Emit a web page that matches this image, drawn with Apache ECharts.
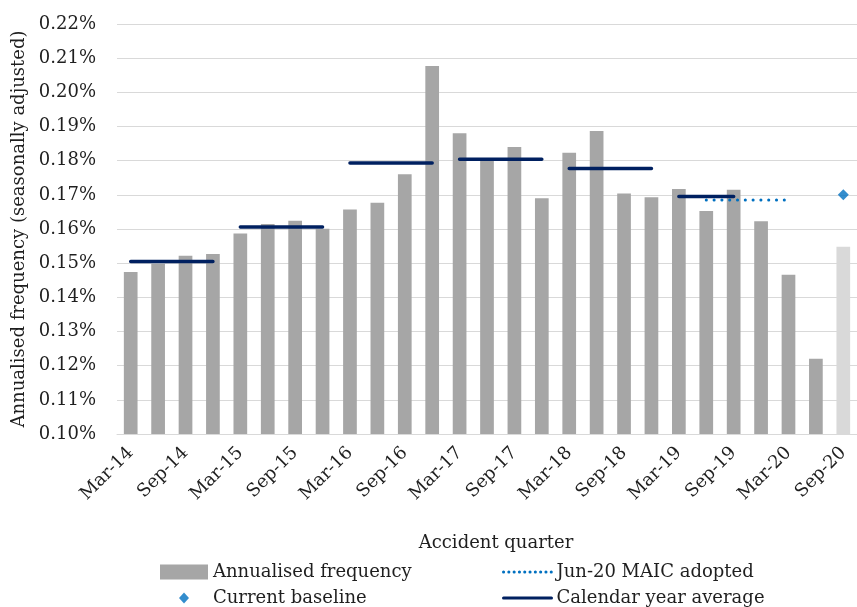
<!DOCTYPE html>
<html>
<head>
<meta charset="utf-8">
<script src="https://cdn.jsdelivr.net/npm/echarts@6/dist/echarts.min.js"></script>
<style>
  html, body { margin: 0; padding: 0; background: #fff; }
  #chart { width: 857px; height: 607px; }
</style>
</head>
<body>
<div id="chart"></div>
<script>
// Accident quarters
const categories = [
  'Mar-14','Jun-14','Sep-14','Dec-14',
  'Mar-15','Jun-15','Sep-15','Dec-15',
  'Mar-16','Jun-16','Sep-16','Dec-16',
  'Mar-17','Jun-17','Sep-17','Dec-17',
  'Mar-18','Jun-18','Sep-18','Dec-18',
  'Mar-19','Jun-19','Sep-19','Dec-19',
  'Mar-20','Jun-20','Sep-20'
];

// Annualised frequency (seasonally adjusted), in percent
const frequency = [
  0.1474, 0.1498, 0.1522, 0.1527,
  0.1587, 0.1615, 0.1624, 0.1601,
  0.1657, 0.1677, 0.1760, 0.2077,
  0.1880, 0.1801, 0.1840, 0.1690,
  0.1823, 0.1887, 0.1704, 0.1693,
  0.1717, 0.1653, 0.1715, 0.1623,
  0.1466, 0.1220, 0.1548
];
// Latest quarter, still developing (lighter bar)
const partialQuarter = 'Sep-20';

// Calendar year averages and the quarters each one covers
const yearAverages = [0.1505, 0.1606, 0.1793, 0.1804, 0.1777, 0.1695];
const yearStarts   = ['Mar-14', 'Mar-15', 'Mar-16', 'Mar-17', 'Mar-18', 'Mar-19'];
const yearEnds     = ['Dec-14', 'Dec-15', 'Dec-16', 'Dec-17', 'Dec-18', 'Sep-19'];

// Jun-20 MAIC adopted assumption
const maicValue = 0.1685;
const maicStart = 'Jun-19';
const maicEnd = 'Mar-20';

// Current baseline
const baselineValue = 0.170;
const baselineQuarter = 'Sep-20';

// Y axis ticks
const yMin = 0.10, yMax = 0.22, yStep = 0.01;

const FONT = 'DejaVu Serif';
const FS = 18;
const TEXT = '#1f1f1f';

function spanData(value, from, to) {
  const a = categories.indexOf(from), b = categories.indexOf(to);
  return categories.map((c, i) => (i >= a && i <= b ? value : null));
}

const barData = frequency.map((v, i) => ({
  value: v,
  itemStyle: { color: categories[i] === partialQuarter ? '#d9d9d9' : '#a6a6a6' }
}));

const yearSeries = yearAverages.map((v, k) => ({
  name: 'Calendar year average',
  type: 'line',
  data: spanData(v, yearStarts[k], yearEnds[k]),
  symbol: 'none',
  connectNulls: false,
  lineStyle: { color: '#002060', width: 3.5, cap: 'round' },
  itemStyle: { color: '#002060' },
  z: 4
}));

const baselineData = categories.map(c => (c === baselineQuarter ? baselineValue : null));

const legendBase = {
  orient: 'horizontal',
  padding: 0,
  itemWidth: 48,
  itemHeight: 15,
  itemGap: 0,
  textStyle: { fontFamily: FONT, fontSize: FS, color: TEXT },
  selectedMode: false
};

const option = {
  animation: false,
  backgroundColor: '#fff',
  textStyle: { fontFamily: FONT },
  grid: { left: 117, right: -4, top: 24, bottom: 173, containLabel: false },
  xAxis: {
    type: 'category',
    data: categories,
    boundaryGap: true,
    axisLine: { lineStyle: { color: '#d9d9d9', width: 1 } },
    axisTick: { show: false },
    axisLabel: {
      interval: 1,
      rotate: 45,
      fontFamily: FONT,
      fontSize: FS,
      color: TEXT,
      margin: 16
    },
    name: 'Accident quarter',
    nameLocation: 'middle',
    nameGap: 100,
    nameTextStyle: { fontFamily: FONT, fontSize: FS, color: TEXT, padding: [0, 0, 0, 18] }
  },
  yAxis: {
    type: 'value',
    min: yMin,
    max: yMax,
    interval: yStep,
    axisLine: { show: false },
    axisTick: { show: false },
    splitLine: { lineStyle: { color: '#d9d9d9', width: 1 } },
    axisLabel: {
      fontFamily: FONT,
      fontSize: FS,
      color: TEXT,
      margin: 21,
      formatter: v => v.toFixed(2) + '%'
    },
    name: 'Annualised frequency (seasonally adjusted)',
    nameLocation: 'middle',
    nameGap: 87,
    nameTextStyle: { fontFamily: FONT, fontSize: FS, color: TEXT }
  },
  legend: [
    Object.assign({}, legendBase, { left: 160, top: 563, data: [{ name: 'Annualised frequency', icon: 'rect' }] }),
    Object.assign({}, legendBase, {
      left: 502, top: 563,
      itemStyle: { opacity: 0 },
      lineStyle: { width: 3, type: [0.1, 5.2], cap: 'round', color: '#0070c0' },
      data: ['Jun-20 MAIC adopted']
    }),
    Object.assign({}, legendBase, {
      left: 179, top: 589, itemWidth: 10, itemHeight: 11,
      textStyle: { fontFamily: FONT, fontSize: FS, color: TEXT, padding: [0, 0, 0, 19] },
      data: [{ name: 'Current baseline', icon: 'diamond' }]
    }),
    Object.assign({}, legendBase, {
      left: 502, top: 589,
      itemStyle: { opacity: 0 },
      lineStyle: { width: 3, color: '#002060' },
      data: ['Calendar year average']
    })
  ],
  series: [
    {
      name: 'Annualised frequency',
      type: 'bar',
      data: barData,
      barCategoryGap: '50%',
      itemStyle: { color: '#a6a6a6' },
      z: 2
    },
    {
      name: 'Jun-20 MAIC adopted',
      type: 'line',
      data: spanData(maicValue, maicStart, maicEnd),
      symbol: 'none',
      lineStyle: { color: '#0070c0', width: 3, type: [0.1, 7.7], cap: 'round' },
      itemStyle: { color: '#0070c0' },
      z: 3
    },
    {
      name: 'Current baseline',
      type: 'scatter',
      data: baselineData,
      symbol: 'diamond',
      symbolSize: 11,
      itemStyle: { color: '#0070c0' },
      z: 5
    }
  ].concat(yearSeries)
};

const chart = echarts.init(document.getElementById('chart'), null, { renderer: 'canvas' });
chart.setOption(option);
</script>
</body>
</html>
